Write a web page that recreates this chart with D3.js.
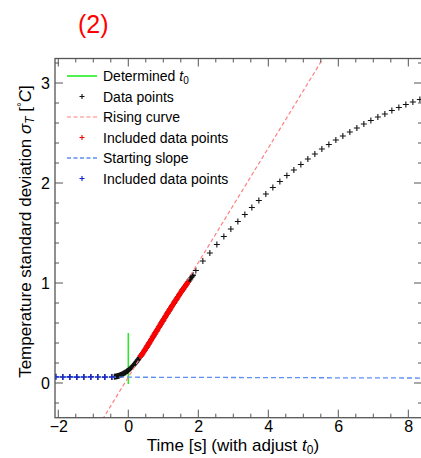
<!DOCTYPE html>
<html>
<head>
<meta charset="utf-8">
<script src="https://cdn.jsdelivr.net/npm/d3@7"></script>
<style>
  html, body { margin: 0; padding: 0; background: #fff; }
  svg { display: block; font-family: "Liberation Sans", Arial, Helvetica, sans-serif; }
</style>
</head>
<body>
<svg id="chart" width="421" height="458"></svg>
<script>
// Baseline samples (every 0.2 s before the rise), used for the starting slope fit
const baseTimes  = [-2.07, -1.87, -1.67, -1.47, -1.27, -1.07, -0.87, -0.67, -0.47];
const baseValues = [0.062, 0.060, 0.061, 0.059, 0.060, 0.061, 0.060, 0.059, 0.060];

// Densely sampled rise around t0 (every 0.025 s)
const riseTimes = [
  -0.400, -0.375, -0.350, -0.325, -0.300, -0.275, -0.250, -0.225, -0.200, -0.175,
  -0.150, -0.125, -0.100, -0.075, -0.050, -0.025,  0.000,  0.025,  0.050,  0.075,
   0.100,  0.125,  0.150,  0.175,  0.200,  0.225,  0.250,  0.275,  0.300,  0.325,
   0.350,  0.375,  0.400,  0.425,  0.450,  0.475,  0.500,  0.525,  0.550,  0.575,
   0.600,  0.625,  0.650,  0.675,  0.700,  0.725,  0.750,  0.775,  0.800,  0.825,
   0.850,  0.875,  0.900,  0.925,  0.950,  0.975,  1.000,  1.025,  1.050,  1.075,
   1.100,  1.125,  1.150,  1.175,  1.200,  1.225,  1.250,  1.275,  1.300,  1.325,
   1.350,  1.375,  1.400,  1.425,  1.450,  1.475,  1.500,  1.525,  1.550,  1.575,
   1.600,  1.625,  1.650,  1.675,  1.700,  1.725,  1.750,  1.775,  1.800,  1.825,
   1.850];
const riseValues = [
  0.063, 0.064, 0.066, 0.068, 0.070, 0.073, 0.076, 0.079, 0.083, 0.087,
  0.092, 0.097, 0.102, 0.108, 0.114, 0.121, 0.128, 0.135, 0.143, 0.151,
  0.160, 0.169, 0.178, 0.188, 0.198, 0.209, 0.220, 0.231, 0.243, 0.255,
  0.267, 0.279, 0.292, 0.305, 0.318, 0.331, 0.345, 0.359, 0.373, 0.387,
  0.401, 0.415, 0.430, 0.444, 0.459, 0.473, 0.487, 0.502, 0.516, 0.530,
  0.545, 0.559, 0.573, 0.588, 0.602, 0.616, 0.630, 0.645, 0.659, 0.673,
  0.687, 0.701, 0.715, 0.729, 0.743, 0.757, 0.771, 0.784, 0.798, 0.811,
  0.825, 0.838, 0.852, 0.865, 0.879, 0.892, 0.905, 0.918, 0.931, 0.943,
  0.956, 0.968, 0.981, 0.993, 1.006, 1.018, 1.031, 1.043, 1.055, 1.067,
  1.079];

// Later samples (every 0.2 s) as the signal saturates
const tailTimes  = [1.93, 2.13, 2.33, 2.53, 2.73, 2.93, 3.13, 3.33, 3.53, 3.73,
                    3.93, 4.13, 4.33, 4.53, 4.73, 4.93, 5.13, 5.33, 5.53, 5.73,
                    5.93, 6.13, 6.33, 6.53, 6.73, 6.93, 7.13, 7.33, 7.53, 7.73,
                    7.93, 8.13, 8.33];
const tailValues = [1.125, 1.22, 1.30, 1.385, 1.465, 1.54, 1.615, 1.685, 1.755, 1.825,
                    1.89, 1.955, 2.015, 2.075, 2.13, 2.185, 2.24, 2.29, 2.34, 2.385,
                    2.43, 2.47, 2.51, 2.55, 2.59, 2.625, 2.66, 2.69, 2.725, 2.755,
                    2.785, 2.81, 2.835];

// Fitted window for the rising curve
const riseFitWindow = [0.35, 1.70];

// Linear fits: [slope, intercept]
const risingCurve   = [0.573, 0.058];
const startingSlope = [-0.001, 0.058];

// Determined t0 marker: time and vertical extent
const t0Value  = 0;
const t0Extent = [-0.01, 0.5];

// Axes
const xDomain = [-2.094, 8.391];
const yDomain = [-0.347, 3.245];
const xMajorTicks = [-2, 0, 2, 4, 6, 8];
const yMajorTicks = [0, 1, 2, 3];

// Legend
const legendLabels = ["Determined", "Data points", "Rising curve", "Included data points", "Starting slope", "Included data points"];

const svg = d3.select("#chart");
const plot = { left: 55, right: 422, top: 58.5, bottom: 417.7 };

const x = d3.scaleLinear().domain(xDomain).range([plot.left, plot.right]);
const y = d3.scaleLinear().domain(yDomain).range([plot.bottom, plot.top]);

// Assemble the full data series
const allPoints = [];
baseTimes.forEach((t, i) => allPoints.push({ t, v: baseValues[i] }));
riseTimes.forEach((t, i) => allPoints.push({ t, v: riseValues[i] }));
tailTimes.forEach((t, i) => allPoints.push({ t, v: tailValues[i] }));
const redPoints = riseTimes.map((t, i) => ({ t, v: riseValues[i] }))
  .filter(d => d.t >= riseFitWindow[0] - 1e-9 && d.t <= riseFitWindow[1] + 1e-9);
const bluePoints = baseTimes.map((t, i) => ({ t, v: baseValues[i] }));

const clipId = "plot-clip";
svg.append("defs").append("clipPath").attr("id", clipId)
  .append("rect")
  .attr("x", plot.left).attr("y", plot.top)
  .attr("width", plot.right - plot.left).attr("height", plot.bottom - plot.top);

const g = svg.append("g").attr("clip-path", `url(#${clipId})`);

function plusPath(cx, cy, r) {
  return `M${cx - r},${cy}H${cx + r}M${cx},${cy - r}V${cy + r}`;
}
function drawPluses(sel, pts, color, r, w) {
  sel.append("path")
    .attr("d", pts.map(d => plusPath(x(d.t), y(d.v), r)).join(""))
    .attr("fill", "none")
    .attr("stroke", color)
    .attr("stroke-width", w);
}
function fitLine(coef) {
  return [{ t: xDomain[0], v: coef[0] * xDomain[0] + coef[1] },
          { t: xDomain[1], v: coef[0] * xDomain[1] + coef[1] }];
}
const line = d3.line().x(d => x(d.t)).y(d => y(d.v));

// Determined t0
g.append("line")
  .attr("x1", x(t0Value)).attr("x2", x(t0Value))
  .attr("y1", y(t0Extent[0])).attr("y2", y(t0Extent[1]))
  .attr("stroke", "#22ee22").attr("stroke-width", 1.5);

// Data points
drawPluses(g, allPoints, "#111", 3, 1.1);

// Rising curve
g.append("path").attr("d", line(fitLine(risingCurve)))
  .attr("fill", "none").attr("stroke", "#ff8080").attr("stroke-width", 1.2)
  .attr("stroke-dasharray", "4,2.5");

// Points included in the rising fit
drawPluses(g, redPoints, "#ff0000", 3, 1.4);

// Starting slope
g.append("path").attr("d", line(fitLine(startingSlope)))
  .attr("fill", "none").attr("stroke", "#5c8ef5").attr("stroke-width", 1.3)
  .attr("stroke-dasharray", "5,3");

// Points included in the starting slope fit
drawPluses(g, bluePoints, "#1020dd", 3, 1.2);

// Frame and ticks
const frameColor = "#555";
svg.append("rect")
  .attr("x", plot.left).attr("y", plot.top)
  .attr("width", plot.right - plot.left).attr("height", plot.bottom - plot.top)
  .attr("fill", "none").attr("stroke", frameColor).attr("stroke-width", 1.3);

const xMinor = d3.range(-2, 8.5 + 1e-9, 0.5).filter(v => v >= xDomain[0] && v <= xDomain[1]);
const yMinor = d3.range(-0.2, 3.25, 0.2).filter(v => v >= yDomain[0] && v <= yDomain[1]);
const isMajor = (v, arr) => arr.some(m => Math.abs(m - v) < 1e-6);

const ticks = svg.append("g").attr("stroke", frameColor).attr("stroke-width", 1);
xMinor.forEach(v => {
  const L = isMajor(v, xMajorTicks) ? 8 : 4;
  ticks.append("line").attr("x1", x(v)).attr("x2", x(v)).attr("y1", plot.bottom).attr("y2", plot.bottom - L);
  ticks.append("line").attr("x1", x(v)).attr("x2", x(v)).attr("y1", plot.top).attr("y2", plot.top + L);
});
yMinor.forEach(v => {
  const L = isMajor(v, yMajorTicks) ? 8 : 4;
  ticks.append("line").attr("y1", y(v)).attr("y2", y(v)).attr("x1", plot.left).attr("x2", plot.left + L);
  ticks.append("line").attr("y1", y(v)).attr("y2", y(v)).attr("x1", plot.right).attr("x2", plot.right - L);
});

// Tick labels
const fmt = d => (d < 0 ? "\u2212" : "") + d3.format("d")(Math.abs(d));
const axisBottom = d3.axisBottom(x).tickValues(xMajorTicks).tickSize(0).tickPadding(0).tickFormat(fmt);
const xAxisG = svg.append("g").attr("transform", `translate(0,${plot.bottom})`).call(axisBottom);
xAxisG.select(".domain").remove();
xAxisG.selectAll("text").attr("font-size", 16).attr("fill", "#000")
  .attr("dy", null).attr("y", 14.5).attr("font-family", "Liberation Sans, Arial, sans-serif");

const axisLeft = d3.axisLeft(y).tickValues(yMajorTicks).tickSize(0).tickPadding(5).tickFormat(fmt);
const yAxisG = svg.append("g").attr("transform", `translate(${plot.left},0)`).call(axisLeft);
yAxisG.select(".domain").remove();
yAxisG.selectAll("text").attr("font-size", 16).attr("fill", "#000")
  .attr("font-family", "Liberation Sans, Arial, sans-serif");

// Axis titles
const xt = svg.append("text").attr("x", 233).attr("y", 450.5)
  .attr("text-anchor", "middle").attr("font-size", 17);
xt.append("tspan").text("Time [s] (with adjust ");
xt.append("tspan").attr("font-style", "italic").text("t");
xt.append("tspan").attr("font-size", 12).attr("dy", 3).text("0");
xt.append("tspan").attr("dy", -3).text(")");

const yt = svg.append("text").attr("transform", "translate(31,231.5) rotate(-90)")
  .attr("text-anchor", "middle").attr("font-size", 17);
yt.append("tspan").text("Temperature standard deviation ");
yt.append("tspan").attr("font-style", "italic").text("\u03C3");
yt.append("tspan").attr("font-style", "italic").attr("font-size", 12).attr("dy", 3).text("T");
yt.append("tspan").attr("dy", -3).text(" [");
yt.append("tspan").attr("font-size", 12).attr("dy", -5).text("\u00B0");
yt.append("tspan").attr("dy", 5).attr("font-style", "italic").text("C");
yt.append("tspan").text("]");

// Panel tag
svg.append("text").attr("x", 78).attr("y", 33).attr("font-size", 25)
  .attr("fill", "#ff0000").text("(2)");

// Legend
const legend = svg.append("g");
const rowY = i => 76 + i * 20.5;
const sampleX = [67, 97];
const textX = 103;
const kinds = [
  { type: "line", color: "#22ee22", dash: null, w: 1.6 },
  { type: "plus", color: "#111" },
  { type: "line", color: "#ff8080", dash: "4,2.5", w: 1.2 },
  { type: "plus", color: "#ff0000" },
  { type: "line", color: "#5c8ef5", dash: "4,2.5", w: 1.3 },
  { type: "plus", color: "#1020dd" }
];
kinds.forEach((k, i) => {
  const yy = rowY(i);
  if (k.type === "line") {
    legend.append("line").attr("x1", sampleX[0]).attr("x2", sampleX[1])
      .attr("y1", yy).attr("y2", yy).attr("stroke", k.color)
      .attr("stroke-width", k.w).attr("stroke-dasharray", k.dash);
  } else {
    legend.append("path").attr("d", plusPath((sampleX[0] + sampleX[1]) / 2, yy, 2.5))
      .attr("stroke", k.color).attr("stroke-width", 1.1).attr("fill", "none");
  }
  const tx = legend.append("text").attr("x", textX).attr("y", yy + 5)
    .attr("font-size", 14).attr("fill", "#000");
  tx.append("tspan").text(legendLabels[i]);
  if (i === 0) {
    tx.append("tspan").text(" ");
    tx.append("tspan").attr("font-style", "italic").text("t");
    tx.append("tspan").attr("font-size", 10).attr("dy", 3).text("0");
  }
});
</script>
</body>
</html>
